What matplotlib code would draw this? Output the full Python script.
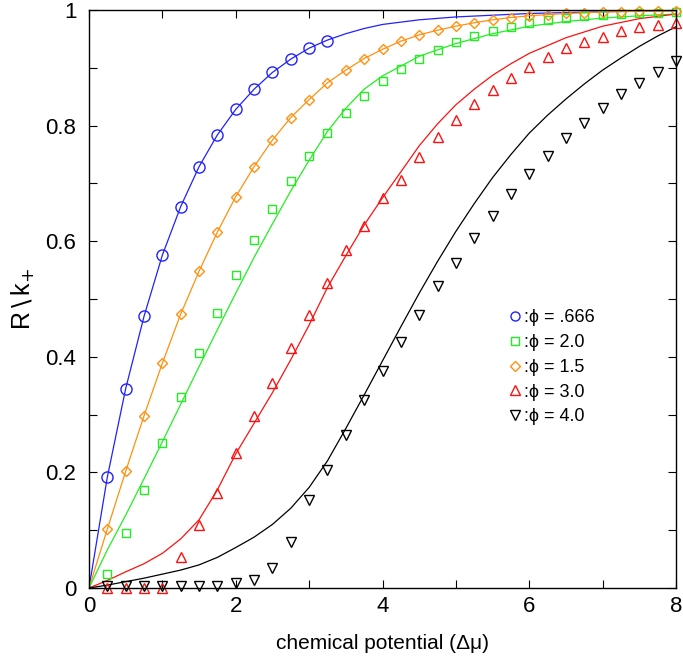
import matplotlib
matplotlib.use("Agg")
import matplotlib.pyplot as plt
from matplotlib.lines import Line2D
from matplotlib.ticker import MultipleLocator, FormatStrFormatter

plt.rcParams['font.family'] = ['Liberation Sans', 'DejaVu Sans']

# ---- data -------------------------------------------------------------
x_pts = [0.25 * i for i in range(1, 33)]          # 0.25 ... 8.0
x_blue_pts = x_pts[:13]                             # 0.25 ... 3.25

blue_pts = [0.192, 0.345, 0.47, 0.576, 0.66, 0.729, 0.784, 0.828, 0.863,
            0.892, 0.915, 0.934, 0.947]
green_pts = [0.025, 0.095, 0.17, 0.251, 0.33, 0.406, 0.476, 0.542, 0.602,
             0.656, 0.704, 0.748, 0.787, 0.821, 0.851, 0.877, 0.898, 0.916,
             0.931, 0.944, 0.955, 0.964, 0.971, 0.977, 0.982, 0.986, 0.989,
             0.992, 0.993, 0.994, 0.995, 0.997]
orange_pts = [0.102, 0.202, 0.298, 0.389, 0.474, 0.548, 0.616, 0.677, 0.729,
              0.775, 0.814, 0.845, 0.874, 0.896, 0.916, 0.932, 0.946, 0.957,
              0.965, 0.972, 0.978, 0.983, 0.987, 0.99, 0.992, 0.994, 0.995,
              0.997, 0.997, 0.998, 0.998, 0.999]
red_pts = [0.0, 0.0, 0.0, 0.0, 0.054, 0.109, 0.164, 0.234, 0.297, 0.355,
           0.416, 0.473, 0.527, 0.585, 0.627, 0.674, 0.706, 0.746, 0.781,
           0.81, 0.837, 0.862, 0.882, 0.902, 0.919, 0.934, 0.944, 0.954,
           0.963, 0.97, 0.974, 0.978]
black_pts = [0.003, 0.003, 0.003, 0.003, 0.003, 0.003, 0.003, 0.008, 0.014,
             0.034, 0.08, 0.152, 0.205, 0.265, 0.325, 0.376, 0.425, 0.472,
             0.522, 0.562, 0.605, 0.643, 0.682, 0.717, 0.748, 0.778, 0.805,
             0.83, 0.854, 0.874, 0.893, 0.911]

# smooth model curves
x_blue_line = [0, 0.25, 0.5, 0.75, 1, 1.25, 1.5, 1.75, 2, 2.25, 2.5, 2.75, 3,
               3.25, 3.5, 3.75, 4, 4.5, 5, 5.5, 6, 7, 8]
blue_line = [0, 0.192, 0.345, 0.47, 0.576, 0.66, 0.729, 0.784, 0.828, 0.863,
             0.892, 0.915, 0.934, 0.948, 0.959, 0.968, 0.975, 0.983, 0.988,
             0.991, 0.994, 0.997, 0.999]
x_orange_line = [0] + x_pts
orange_line = [0] + orange_pts
x_green_line = [0, 0.25, 0.5, 0.75, 1, 1.25, 1.5, 1.75, 2, 2.25, 2.5, 2.75, 3,
                3.25, 3.5, 3.75, 4, 4.5, 5, 5.5, 6, 6.5, 7, 7.5, 8]
green_line = [0, 0.066, 0.126, 0.189, 0.253, 0.318, 0.383, 0.447, 0.51, 0.572,
              0.63, 0.687, 0.74, 0.79, 0.83, 0.863, 0.886, 0.92, 0.942, 0.959,
              0.972, 0.98, 0.986, 0.99, 0.993]
x_red_line = [0, 0.25, 0.5, 0.75, 1, 1.25, 1.5, 1.75, 2, 2.25, 2.5, 2.75, 3,
              3.25, 3.5, 3.75, 4, 4.25, 4.5, 4.75, 5, 5.25, 5.5, 5.75, 6,
              6.5, 7, 7.5, 8]
red_line = [0, 0.013, 0.028, 0.042, 0.06, 0.085, 0.118, 0.17, 0.232, 0.285,
            0.338, 0.395, 0.455, 0.52, 0.575, 0.628, 0.675, 0.72, 0.765,
            0.803, 0.836, 0.863, 0.887, 0.907, 0.925, 0.952, 0.972, 0.985,
            0.993]
x_black_line = [0, 0.25, 0.5, 0.75, 1, 1.25, 1.5, 1.75, 2, 2.25, 2.5, 2.75, 3,
                3.25, 3.5, 3.75, 4, 4.25, 4.5, 4.75, 5, 5.25, 5.5, 5.75, 6,
                6.25, 6.5, 6.75, 7, 7.25, 7.5, 7.75, 8]
black_line = [0, 0.005, 0.011, 0.017, 0.024, 0.031, 0.04, 0.053, 0.07, 0.088,
              0.11, 0.138, 0.174, 0.22, 0.276, 0.334, 0.393, 0.452, 0.51,
              0.565, 0.617, 0.665, 0.71, 0.75, 0.787, 0.818, 0.846, 0.872,
              0.896, 0.917, 0.937, 0.955, 0.971]

labels = [':\u03d5 = .666', ':\u03d5 = 2.0', ':\u03d5 = 1.5', ':\u03d5 = 3.0', ':\u03d5 = 4.0']

BLUE = '#2121ff'
GREEN = '#22ee22'
ORANGE = '#ff9010'
RED = '#ff1010'
BLACK = '#000000'

# ---- figure -----------------------------------------------------------
fig = plt.figure(figsize=(6.83, 6.57), dpi=100)
ax = fig.add_axes([89 / 683, 69 / 657, 587 / 683, 578 / 657])

lw = 0.9
ax.plot(x_blue_line, blue_line, color=BLUE, lw=lw)
ax.plot(x_orange_line, orange_line, color=ORANGE, lw=lw)
ax.plot(x_green_line, green_line, color=GREEN, lw=lw)
ax.plot(x_red_line, red_line, color=RED, lw=lw)
ax.plot(x_black_line, black_line, color=BLACK, lw=lw)

mew = 1.0
common = dict(ls='none', mfc='none', mew=mew, clip_on=False)
ax.plot(x_blue_pts, blue_pts, marker='o', ms=8, mec=BLUE, **common)
ax.plot(x_pts, green_pts, marker='s', ms=6, mec=GREEN, **common)
ax.plot(x_pts, orange_pts, marker='D', ms=5.5, mec=ORANGE, **common)
ax.plot(x_pts, red_pts, marker='^', ms=7.5, mec=RED, **common)
ax.plot(x_pts, black_pts, marker='v', ms=7.5, mec=BLACK, **common)

ax.set_xlim(0, 8)
ax.set_ylim(0, 1)

ax.xaxis.set_major_locator(MultipleLocator(2))
ax.xaxis.set_minor_locator(MultipleLocator(1))
ax.yaxis.set_major_locator(MultipleLocator(0.2))
ax.yaxis.set_minor_locator(MultipleLocator(0.1))
ax.xaxis.set_major_formatter(FormatStrFormatter('%g'))
ax.yaxis.set_major_formatter(FormatStrFormatter('%g'))
ax.tick_params(which='both', direction='in', top=True, right=True,
               length=6, width=0.8, labelsize=16, color='black')
ax.tick_params(axis='x', pad=6)
ax.tick_params(axis='y', pad=9)
for s in ax.spines.values():
    s.set_linewidth(1.0)
    s.set_color('black')

ax.set_xlabel('chemical potential (\u0394\u03bc)', fontsize=15, labelpad=12)
ax.set_ylabel(r'R$\,\backslash\,$k$_{+}$', fontsize=18, labelpad=6)

handles = [
    Line2D([], [], ls='none', marker='o', ms=6.5, mfc='none', mec=BLUE, mew=mew),
    Line2D([], [], ls='none', marker='s', ms=6, mfc='none', mec=GREEN, mew=mew),
    Line2D([], [], ls='none', marker='D', ms=4.8, mfc='none', mec=ORANGE, mew=mew),
    Line2D([], [], ls='none', marker='^', ms=6.5, mfc='none', mec=RED, mew=mew),
    Line2D([], [], ls='none', marker='v', ms=6.5, mfc='none', mec=BLACK, mew=mew),
]
ax.legend(handles, labels, loc='upper left', bbox_to_anchor=(0.717, 0.482),
          frameon=False, fontsize=13, handlelength=0.6, handletextpad=0.2,
          labelspacing=0.43, borderpad=0, borderaxespad=0)

fig.savefig('out.png', dpi=100)
